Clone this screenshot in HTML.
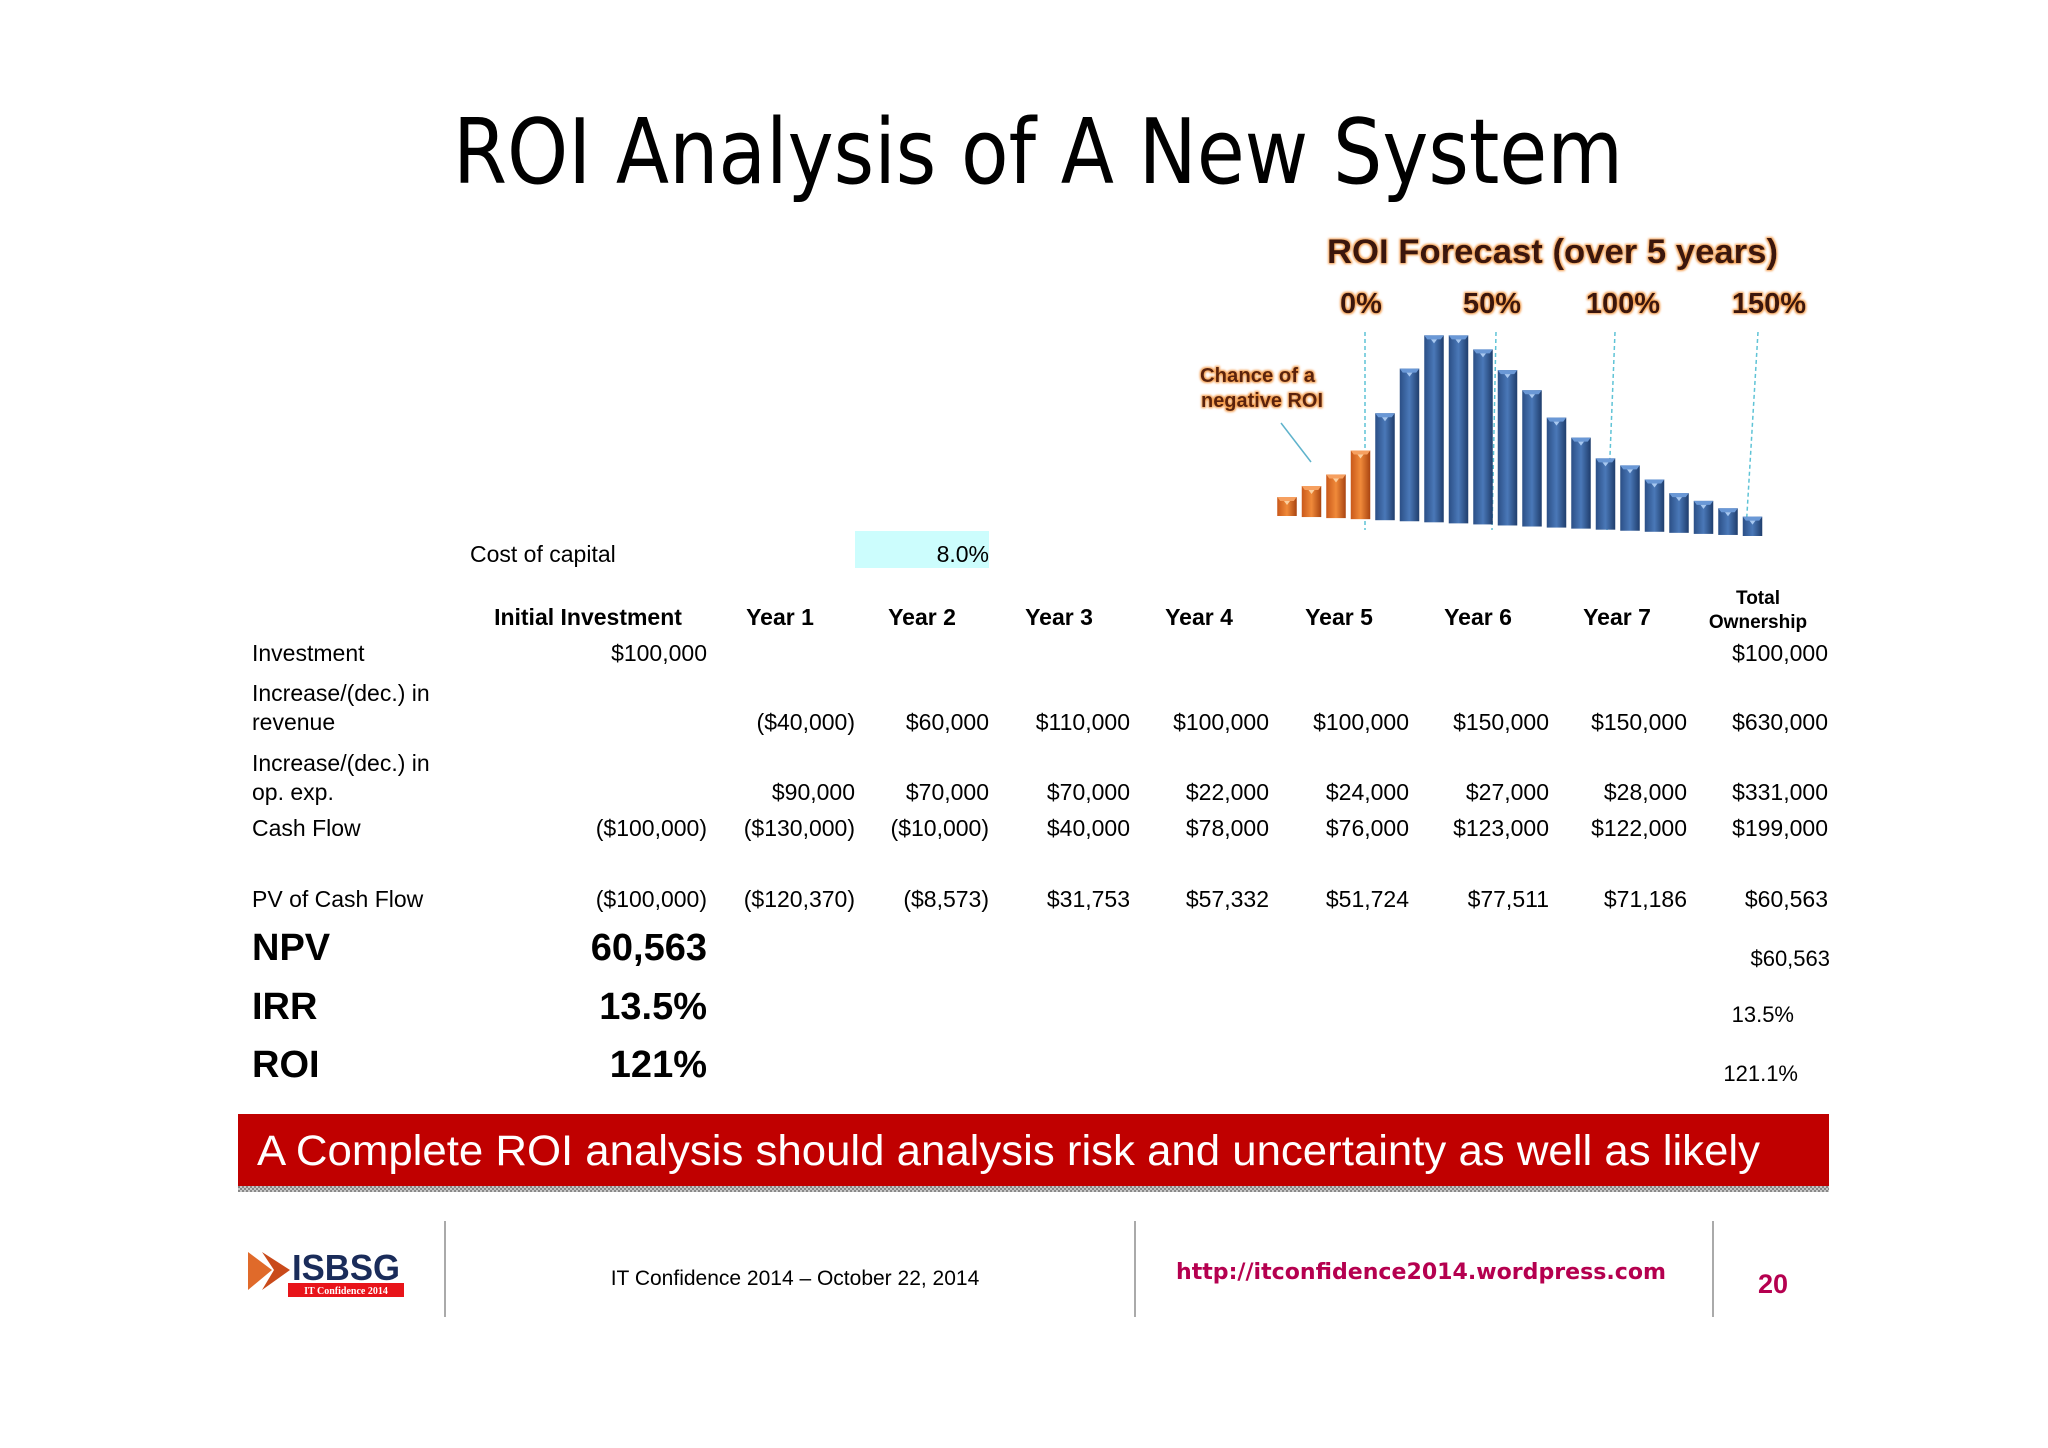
<!DOCTYPE html>
<html><head><meta charset="utf-8">
<style>
html,body{margin:0;padding:0;background:#fff;}
svg{display:block;font-family:"Liberation Sans",sans-serif;}
</style></head>
<body>
<svg id="page" width="2048" height="1448" viewBox="0 0 2048 1448" xmlns="http://www.w3.org/2000/svg">
<defs>
<linearGradient id="blueG" x1="0" x2="1" y1="0" y2="0">
<stop offset="0" stop-color="#2b4f86"/><stop offset="0.5" stop-color="#4a78b8"/><stop offset="1" stop-color="#1f3d6c"/>
</linearGradient>
<linearGradient id="orG" x1="0" x2="1" y1="0" y2="0">
<stop offset="0" stop-color="#c9581a"/><stop offset="0.5" stop-color="#f08a3a"/><stop offset="1" stop-color="#a94410"/>
</linearGradient>
<filter id="glow" x="-10%" y="-30%" width="120%" height="160%">
<feMorphology operator="dilate" radius="1" in="SourceAlpha" result="d"/>
<feFlood flood-color="#f39a4a"/><feComposite in2="d" operator="in" result="g"/>
<feGaussianBlur in="g" stdDeviation="1" result="b"/>
<feMerge><feMergeNode in="b"/><feMergeNode in="SourceGraphic"/></feMerge>
</filter>
<pattern id="checker" width="4" height="4" patternUnits="userSpaceOnUse">
<rect width="4" height="4" fill="#c8c8c8"/><rect width="2" height="2" fill="#888"/><rect x="2" y="2" width="2" height="2" fill="#888"/>
</pattern>
</defs>

<text x="1038" y="183" text-anchor="middle" font-family="'DejaVu Sans',sans-serif" font-size="90" fill="#000" textLength="1170" lengthAdjust="spacingAndGlyphs">ROI Analysis of A New System</text>

<g id="chart">
<text x="1327" y="263" font-size="34" font-weight="bold" fill="#3a1808" filter="url(#glow)" textLength="451" lengthAdjust="spacingAndGlyphs">ROI Forecast (over 5 years)</text>
<text x="1200" y="382" font-size="20" font-weight="bold" fill="#5a2208" filter="url(#glow)" textLength="115" lengthAdjust="spacingAndGlyphs">Chance of a</text>
<text x="1201" y="407" font-size="20" font-weight="bold" fill="#5a2208" filter="url(#glow)" textLength="122" lengthAdjust="spacingAndGlyphs">negative ROI</text>
<line x1="1281" y1="423" x2="1311" y2="462" stroke="#5fb3cc" stroke-width="1.5"/>
<g id="axisG"></g>
<g id="barsG"></g>
</g>

<g id="table"></g>

<g>
<rect x="238" y="1114" width="1591" height="72" fill="#c00000"/>
<rect x="238" y="1186" width="1591" height="6" fill="url(#checker)"/>
<text x="257" y="1165" font-size="43" fill="#fff" textLength="1503" lengthAdjust="spacingAndGlyphs">A Complete ROI analysis should analysis risk and uncertainty as well as likely</text>
</g>

<g>
<line x1="445" y1="1221" x2="445" y2="1317" stroke="#aaa" stroke-width="2"/>
<line x1="1135" y1="1221" x2="1135" y2="1317" stroke="#aaa" stroke-width="2"/>
<line x1="1713" y1="1221" x2="1713" y2="1317" stroke="#aaa" stroke-width="2"/>
<g>
<polygon points="248,1252 272,1270 248,1290" fill="#e06a2a"/>
<polygon points="262,1252 290,1270 262,1290 274,1270" fill="#c94a1a"/>
<text x="292" y="1280" font-size="36" font-weight="bold" fill="#1a2c5a" textLength="108" lengthAdjust="spacingAndGlyphs">ISBSG</text>
<rect x="288" y="1283" width="116" height="14" fill="#e8141a"/>
<text x="346" y="1294" text-anchor="middle" font-family="'Liberation Serif',serif" font-size="10" font-weight="bold" fill="#fff">IT Confidence 2014</text>
</g>
<text x="795" y="1285" text-anchor="middle" font-size="21" fill="#000">IT Confidence 2014 – October 22, 2014</text>
<text x="1421" y="1279" text-anchor="middle" font-family="'DejaVu Sans',sans-serif" font-size="22" font-weight="bold" fill="#b5004f" textLength="490" lengthAdjust="spacingAndGlyphs">http://itconfidence2014.wordpress.com</text>
<text x="1773" y="1293" text-anchor="middle" font-size="27" font-weight="bold" fill="#b5004f">20</text>
</g>
</svg>
<script>
// Chart data (relative frequency heights)
const roiBins = ["-20%","-15%","-10%","-5%","0%","8%","16%","24%","32%","40%","48%","56%","64%","72%","80%","88%","96%","104%","112%","120%"];
const roiFreq = [57,93,131,206,321,458,561,564,525,466,409,330,273,214,196,157,119,99,80,58];
const negativeCount = 4;
const axisTicks = ["0%","50%","100%","150%"];
const axisTickValues = [0,50,100,150];

const NS = "http://www.w3.org/2000/svg";
function mk(tag, attrs, parent){const e=document.createElementNS(NS,tag);for(const k in attrs)e.setAttribute(k,attrs[k]);parent.appendChild(e);return e;}

// axis functions
const x0 = 1287, dx = 24.5;
function xBar(i){return x0 + i*dx;}
function baseY(i){return 516 + 20*i/(roiFreq.length-1);}
function hScale(v){return v/3;}
function xRoi(p){return 1365 + p*2.62;}

const axisG = document.getElementById('axisG');
axisTicks.forEach((t,k)=>{
  const v = axisTickValues[k];
  const x = xRoi(v) - (v===100 ? 12 : 0);
  const ln = mk('line',{x1:x,y1:332,x2:x-v*0.08,y2:530,stroke:'#5fc3d6','stroke-width':1.5,'stroke-dasharray':'4,3'},axisG);
  
  
  const tx = mk('text',{x:xRoi(v)+(k===3?11:-4),y:313,'text-anchor':'middle','font-size':29,'font-weight':'bold',fill:'#3a1808',filter:'url(#glow)'},axisG);
  tx.textContent = t;
  
  
});

const barsG = document.getElementById('barsG');
roiFreq.forEach((v,i)=>{
  const cx = xBar(i), w = 19.5, b = baseY(i), h = hScale(v);
  const neg = i < negativeCount;
  const g = mk('g',{},barsG);
  
  
  mk('rect',{x:cx-w/2,y:b-h,width:w,height:h,fill:neg?'url(#orG)':'url(#blueG)'},g);
  mk('polygon',{points:`${cx-w/2},${b-h} ${cx+w/2},${b-h} ${cx+w/2-3},${b-h+4} ${cx-w/2+3},${b-h+4}`,fill:neg?'#f6a060':'#6a98d6'},g);
  mk('polygon',{points:`${cx-3},${b-h+4} ${cx+3},${b-h+4} ${cx},${b-h+8}`,fill:neg?'#fbd0a0':'#a8c8f0'},g);
});

// Table
const T = document.getElementById('table');
function txt(s,x,y,opts,name){
  const t = mk('text',Object.assign({x:x,y:y,'font-size':23,fill:'#000'},opts||{}),T);
  t.textContent = s;
  
  
  return t;
}
const capBox = mk('rect',{x:855,y:531,width:134,height:37,fill:'#ccfdfd'},T);


txt('Cost of capital',470,562,{},'cost-of-capital-label');
txt('8.0%',989,562,{'text-anchor':'end'},'cost-of-capital-value');

const headers = ["Initial Investment","Year 1","Year 2","Year 3","Year 4","Year 5","Year 6","Year 7"];
const headerX = [588,780,922,1059,1199,1339,1478,1617];
headers.forEach((h,i)=>txt(h,headerX[i],625,{'text-anchor':'middle','font-weight':'bold'},'header-'+h.toLowerCase().replace(/ /g,'-')));
txt('Total',1758,604,{'text-anchor':'middle','font-weight':'bold','font-size':19},'header-total');
txt('Ownership',1758,628,{'text-anchor':'middle','font-weight':'bold','font-size':19},'header-ownership');

const colR = [707,855,989,1130,1269,1409,1549,1687,1828];
const rows = [
  {label:["Investment"],ly:[661],y:661,vals:["$100,000","","","","","","","","$100,000"]},
  {label:["Increase/(dec.) in","revenue"],ly:[701,730],y:730,vals:["","($40,000)","$60,000","$110,000","$100,000","$100,000","$150,000","$150,000","$630,000"]},
  {label:["Increase/(dec.) in","op. exp."],ly:[771,800],y:800,vals:["","$90,000","$70,000","$70,000","$22,000","$24,000","$27,000","$28,000","$331,000"]},
  {label:["Cash Flow"],ly:[836],y:836,vals:["($100,000)","($130,000)","($10,000)","$40,000","$78,000","$76,000","$123,000","$122,000","$199,000"]},
  {label:["PV of Cash Flow"],ly:[907],y:907,vals:["($100,000)","($120,370)","($8,573)","$31,753","$57,332","$51,724","$77,511","$71,186","$60,563"]}
];
rows.forEach((r,ri)=>{
  r.label.forEach((l,k)=>txt(l,252,r.ly[k],{},'row-label-'+ri+'-'+k));
  r.vals.forEach((v,ci)=>{ if(v) txt(v,colR[ci],r.y,{'text-anchor':'end'},'cell-'+ri+'-'+ci); });
});
const summary = [["NPV","60,563","$60,563",1830,960,966],["IRR","13.5%","13.5%",1794,1019,1022],["ROI","121%","121.1%",1798,1077,1081]];
summary.forEach(s=>{
  txt(s[0],252,s[4],{'font-size':38,'font-weight':'bold'},'summary-label-'+s[0].toLowerCase());
  txt(s[1],707,s[4],{'font-size':38,'font-weight':'bold','text-anchor':'end'},'summary-value-'+s[0].toLowerCase());
  txt(s[2],s[3],s[5],{'font-size':22,'text-anchor':'end'},'summary-total-'+s[0].toLowerCase());
});
</script>
</body></html>
